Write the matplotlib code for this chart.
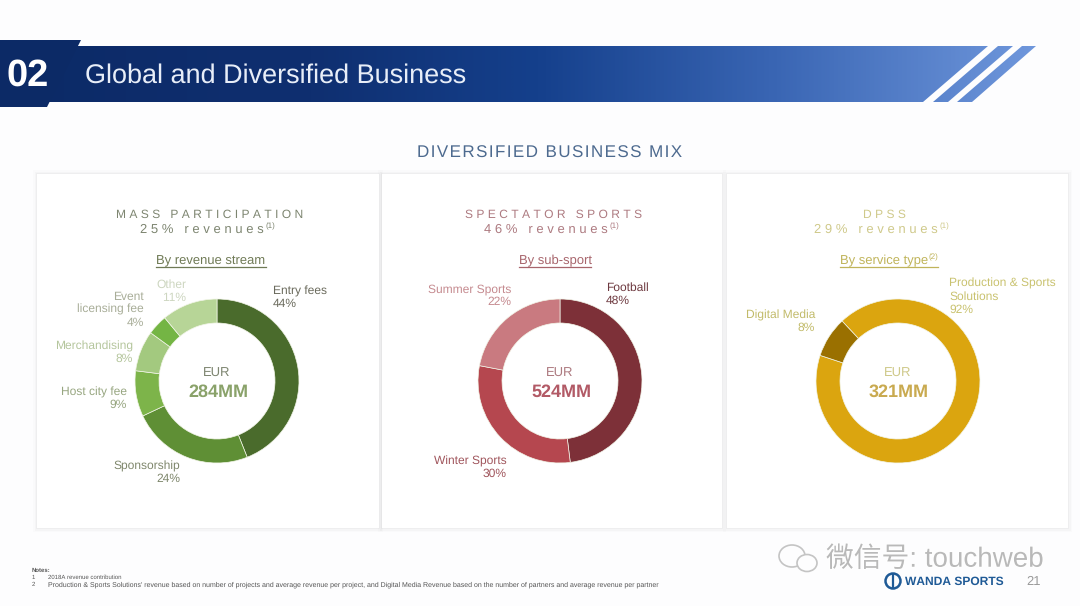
#!/usr/bin/env python3
import matplotlib
matplotlib.use("Agg")
import matplotlib.pyplot as plt
import matplotlib.patheffects as pe
from matplotlib.colors import LinearSegmentedColormap
from matplotlib.patches import Polygon, Rectangle, Circle, Ellipse
import numpy as np

W, H = 1080, 606

# data
mass_labels = ["Entry fees\n44%", "Sponsorship\n24%", "Host city fee\n9%", "Merchandising\n8%", "Event\nlicensing fee\n4%", "Other\n11%"]
mass_shares = [44, 24, 9, 8, 4, 11]
spectator_labels = ["Football\n48%", "Winter Sports\n30%", "Summer Sports\n22%"]
spectator_shares = [48, 30, 22]
dpss_labels = ["Production & Sports\nSolutions\n92%", "Digital Media\n8%"]
dpss_shares = [92, 8]

mass_colors = ["#4a6b2c", "#5f8f35", "#7db44a", "#a3c97f", "#74b544", "#b7d597"]
spectator_colors = ["#7d3038", "#b5474f", "#c97a80"]
dpss_colors = ["#dba50f", "#9a7000"]


def spaced(s, sep="\u2009"):
    return sep.join(s)


def px_text(ax, x, y, s, **kw):
    kw.setdefault("ha", "left")
    kw.setdefault("va", "center")
    return ax.text(x, y + 1.5, s, **kw)


plt.rcParams["font.family"] = ["Liberation Sans", "Noto Sans CJK SC", "DejaVu Sans"]
plt.rcParams["text.hinting"] = "no_hinting"
plt.rcParams["text.hinting_factor"] = 1
fig = plt.figure(figsize=(W / 100, H / 100), dpi=100, facecolor="#fdfdfe")
bg = fig.add_axes([0, 0, 1, 1])
bg.set_xlim(0, W)
bg.set_ylim(H, 0)
bg.axis("off")

# banner with gradient
cmap = LinearSegmentedColormap.from_list(
    "banner", [(0, "#0c2a66"), (0.3, "#0f2f70"), (0.52, "#15408c"), (0.75, "#3a66b4"), (1, "#6f97dc")])
strip = np.linspace(0, 1, 512).reshape(1, -1)
for pts in ([(0, 46), (988, 46), (923, 102), (0, 102)],
            [(998, 46), (1013, 46), (948, 102), (933, 102)],
            [(1022, 46), (1036, 46), (972, 102), (957, 102)]):
    poly = Polygon(pts, closed=True, fc="none", ec="none")
    bg.add_patch(poly)
    im = bg.imshow(strip, cmap=cmap, extent=(0, 1036, 102, 46), aspect="auto", zorder=1)
    im.set_clip_path(poly)
bg.set_xlim(0, W)
bg.set_ylim(H, 0)
bg.add_patch(Polygon([(0, 40), (81, 40), (47, 107), (0, 107)], closed=True, fc="#0c2a66", ec="none", zorder=2))
px_text(bg, 7, 74.5, "02", color="white", fontsize=27, fontweight="bold", zorder=3)
px_text(bg, 85, 74, "Global and Diversified Business", color="#e8eef8", fontsize=19.7, zorder=3)

px_text(bg, 550, 152, spaced("DIVERSIFIED BUSINESS MIX", "\u200a"), color="#4d6a8f", fontsize=12.3, ha="center")

# cards
cards = [(37, 379), (382, 722), (727, 1068)]
for x0, x1 in cards:
    for g, a in ((4, 0.025), (2.5, 0.04), (1.2, 0.06)):
        bg.add_patch(Rectangle((x0 - g, 174 - g), x1 - x0 + 2 * g, 354 + 2 * g, fc="#808080", ec="none", alpha=a, zorder=0.5))
    bg.add_patch(Rectangle((x0, 174), x1 - x0, 354, fc="#ffffff", ec="none", zorder=0.6))

panels = [
    dict(cx=217, head="MASS PARTICIPATION", pct="25% revenues", title_x=210, sub="By revenue stream", sub_x=211,
         labels=mass_labels, shares=mass_shares, colors=mass_colors, start=90, amount="284MM",
         head_color="#7d8570", sub_color="#6f7a55", amt_color="#8aa26a",
         label_pos=[(273, 296, "left", "#6a6a5c"), (180, 471, "right", "#7f876c"), (127, 397, "right", "#97a680"),
                    (133, 351, "right", "#b5c69d"), (144, 308, "right", "#a8ad98"), (186, 290, "right", "#cdd6c0")]),
    dict(cx=560, head="SPECTATOR SPORTS", pct="46% revenues", title_x=554, sub="By sub-sport", sub_x=555,
         labels=spectator_labels, shares=spectator_shares, colors=spectator_colors, start=90, amount="524MM",
         head_color="#ad7a80", sub_color="#a8656c", amt_color="#b25a66",
         label_pos=[(606, 293, "left", "#6e3a40"), (507, 466, "right", "#a0555c"), (511, 294, "right", "#c58a8f")]),
    dict(cx=898, head="DPSS", pct="29% revenues", title_x=884, sub="By service type", sub_x=884,
         labels=dpss_labels, shares=dpss_shares, colors=dpss_colors, start=133, amount="321MM",
         head_color="#cfc98a", sub_color="#c0b45a", amt_color="#c9aa50",
         label_pos=[(949, 295, "left", "#c9c26f"), (815, 320, "right", "#c2bb6a")]),
]

CY, R = 381, 82
for p in panels:
    px_text(bg, p["title_x"], 213, spaced(p["head"], "\u2009\u200a"), ha="center", color=p["head_color"], fontsize=8.9)
    t = px_text(bg, p["title_x"] - 8, 228, spaced(p["pct"], "\u2009\u200a"), ha="center", color=p["head_color"], fontsize=9)
    fig.canvas.draw()
    box = t.get_window_extent()
    px_text(bg, box.x1 + 2, 225, "(1)", color=p["head_color"], fontsize=5.5)

    s = px_text(bg, p["sub_x"], 259, p["sub"], ha="center", color=p["sub_color"], fontsize=9)
    box = s.get_window_extent()
    x_end = box.x1
    if p["head"] == "DPSS":
        sup = px_text(bg, box.x1 + 0.5, 256, "(2)", color=p["sub_color"], fontsize=5.5)
        x_end = sup.get_window_extent().x1
    bg.plot([box.x0, x_end], [266.5, 266.5], color=p["sub_color"], lw=0.9, zorder=3)

    ax = fig.add_axes([(p["cx"] - R) / W, 1 - (CY + R) / H, 2 * R / W, 2 * R / H])
    ax.pie(p["shares"], colors=p["colors"], startangle=p["start"], counterclock=False, radius=1,
           wedgeprops=dict(width=24 / R, edgecolor="#f2f5e8", linewidth=0.5))
    ax.set_xlim(-1, 1)
    ax.set_ylim(-1, 1)

    px_text(bg, p["cx"], 372, "EUR", ha="center", color=p["head_color"], fontsize=9.5, zorder=4)
    px_text(bg, p["cx"] + 1, 391, p["amount"], ha="center", color=p["amt_color"], fontsize=13, fontweight="bold", zorder=4)

    for lab, (lx, ly, ha, col) in zip(p["labels"], p["label_pos"]):
        px_text(bg, lx, ly, lab, ha=ha, color=col, fontsize=8.5, linespacing=1.2, zorder=4)

# footnotes
note_col = "#555555"
px_text(bg, 32, 569, "Notes:", color=note_col, fontsize=4.2, fontweight="bold")
px_text(bg, 32, 576, "1", color=note_col, fontsize=4.4)
px_text(bg, 48, 576, "2018A revenue contribution", color=note_col, fontsize=4.4)
px_text(bg, 32, 583, "2", color=note_col, fontsize=4.4)
px_text(bg, 48, 583, "Production & Sports Solutions' revenue based on number of projects and average revenue per project, and Digital Media Revenue based on the number of partners and average revenue per partner",
        color=note_col, fontsize=4.8)

# footer logo and watermark
bg.add_patch(Circle((893, 581), 7.5, fc="none", ec="#1f5a96", lw=1.8))
bg.plot([893, 893], [575, 587], color="#1f5a96", lw=1.6)
px_text(bg, 905, 580, "WANDA SPORTS", color="#1f5a96", fontsize=8.9, fontweight="bold")
px_text(bg, 1026, 580, "21", color="#9a9a9a", fontsize=9.5)
bg.add_patch(Ellipse((792, 556), 26, 22, fc="none", ec="#c4c4c4", lw=1.2, zorder=5))
bg.add_patch(Ellipse((807, 563), 20, 17, fc="#fdfdfe", ec="#c4c4c4", lw=1.2, zorder=5))
wm = px_text(bg, 826, 558, "微信号: touchweb", color="#b9b9b9", fontsize=20, zorder=5)
wm.set_path_effects([pe.withStroke(linewidth=1.5, foreground="white")])

fig.savefig("out.png", dpi=100, facecolor=fig.get_facecolor())
